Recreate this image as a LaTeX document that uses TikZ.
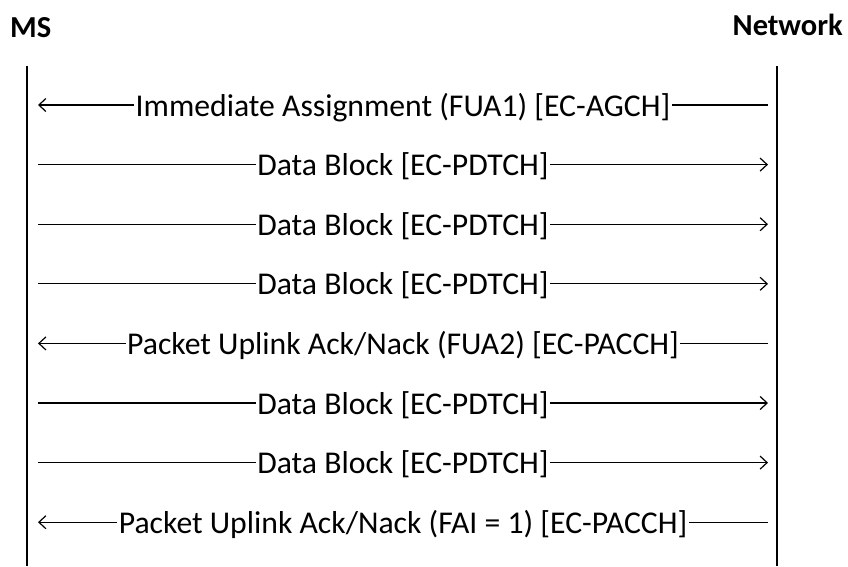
\documentclass[tikz,border=0pt]{standalone}
\usepackage{fontspec}
\setmainfont{Carlito}
\usetikzlibrary{arrows.meta}
\begin{document}
\begin{tikzpicture}[x=1pt,y=-1pt,
  lifeline/.style={line width=1.8pt},
  msgline/.style={line width=1.2pt,-{Straight Barb[length=7pt,width=13pt,line width=1.2pt]}},
  msglabel/.style={fill=white,inner xsep=1.5pt,inner ysep=2pt,anchor=base,font=\fontsize{31.7}{38}\selectfont},
  actor/.style={font=\fontsize{30.5}{36}\selectfont\bfseries,inner sep=0pt}]
\useasboundingbox (0,0) rectangle (848,566);
\node[actor,anchor=base west] (ms) at (10,37) {MS};
\node[actor,anchor=base east] (net) at (843,35) {Network};
\coordinate (msTop) at (27,66);
\coordinate (msBot) at (27,566);
\coordinate (netTop) at (777,66);
\coordinate (netBot) at (777,566);
\draw[lifeline] (msTop) -- (msBot);
\draw[lifeline] (netTop) -- (netBot);
\foreach \i/\dir/\txt in {
  0/l/{Immediate Assignment (FUA1) [EC-AGCH]},
  1/r/{Data Block [EC-PDTCH]},
  2/r/{Data Block [EC-PDTCH]},
  3/r/{Data Block [EC-PDTCH]},
  4/l/{Packet Uplink Ack/Nack (FUA2) [EC-PACCH]},
  5/r/{Data Block [EC-PDTCH]},
  6/r/{Data Block [EC-PDTCH]},
  7/l/{Packet Uplink Ack/Nack (FAI = 1) [EC-PACCH]}} {
  \pgfmathsetmacro{\yy}{105+59.6*\i}
  \coordinate (L\i) at (38,\yy);
  \coordinate (R\i) at (768,\yy);
  \if l\dir
    \draw[msgline] (R\i) -- (L\i);
  \else
    \draw[msgline] (L\i) -- (R\i);
  \fi
  \node[msglabel] (T\i) at (403,\yy+11) {\txt};
}
\end{tikzpicture}
\end{document}
